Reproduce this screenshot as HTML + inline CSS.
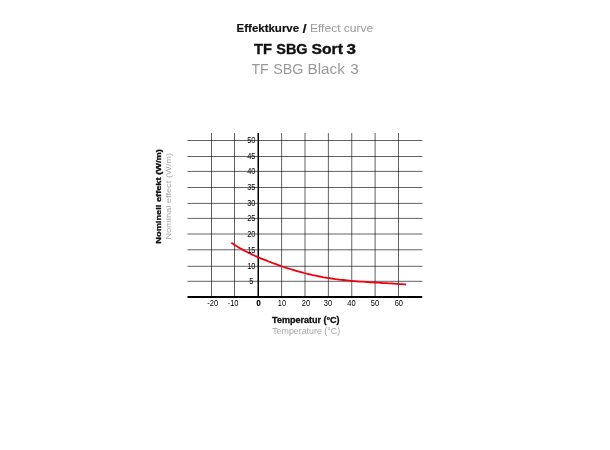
<!DOCTYPE html>
<html><head><meta charset="utf-8">
<style>
html,body{margin:0;padding:0;background:#fff;}
body{width:610px;height:450px;overflow:hidden;position:relative;font-family:"Liberation Sans",sans-serif;}
svg{position:absolute;left:0;top:0;}
text{font-family:"Liberation Sans",sans-serif;}
</style></head><body>
<svg width="610" height="450" viewBox="0 0 610 450">
<rect width="610" height="450" fill="#fff"/>
<text transform="translate(236.58,32.20) scale(0.9995,1)" font-size="11.5" fill="#111" font-weight="bold" stroke="#111" stroke-width="0.2">Effektkurve</text>
<text transform="translate(302.50,32.75) scale(1.1487,1)" font-size="13" fill="#111" font-weight="bold" stroke="#111" stroke-width="0.1">/</text>
<text transform="translate(309.96,32.20) scale(1.0466,1)" font-size="11.5" fill="#999">Effect curve</text>
<text transform="translate(254.10,53.80) scale(0.9620,1)" font-size="15.3" fill="#111" font-weight="bold" stroke="#111" stroke-width="0.35">TF</text>
<text transform="translate(276.27,53.80) scale(0.9465,1)" font-size="15.3" fill="#111" font-weight="bold" stroke="#111" stroke-width="0.35">SBG</text>
<text transform="translate(311.45,53.80) scale(1.0302,1)" font-size="15.3" fill="#111" font-weight="bold" stroke="#111" stroke-width="0.35">Sort</text>
<text transform="translate(346.53,53.80) scale(1.1155,1)" font-size="15.3" fill="#111" font-weight="bold" stroke="#111" stroke-width="0.35">3</text>
<text transform="translate(251.38,73.50) scale(0.9247,1)" font-size="15.3" fill="#999">TF</text>
<text transform="translate(273.15,73.50) scale(0.9352,1)" font-size="15.3" fill="#999">SBG</text>
<text transform="translate(307.51,73.50) scale(0.9984,1)" font-size="15.3" fill="#999">Black</text>
<text transform="translate(350.22,73.50) scale(0.9985,1)" font-size="15.3" fill="#999">3</text>
<text transform="translate(272.10,323.30) scale(1.1006,1)" font-size="8.2" fill="#111" font-weight="bold" stroke="#111" stroke-width="0.3">Temperatur (°C)</text>
<text transform="translate(272.16,334.10) scale(1.0814,1)" font-size="8.2" fill="#a6a6a6">Temperature (°C)</text>
<text transform="translate(160.90,243.10) rotate(-90) translate(-0.58,0) scale(1.2020,1)" font-size="7.7" fill="#111" font-weight="bold" stroke="#111" stroke-width="0.3">Nominell effekt (W/m)</text>
<text transform="translate(171.40,239.00) rotate(-90) translate(-0.72,0) scale(1.2042,1)" font-size="7.7" fill="#a6a6a6">Nominal effect (W/m)</text>
<g stroke="#000" stroke-width="0.62" fill="none">
<path d="M187.5 281.30H422.4M187.5 266.30H422.4M187.5 249.80H422.4M187.5 234.00H422.4M187.5 218.40H422.4M187.5 203.40H422.4M187.5 187.50H422.4M187.5 171.40H422.4M187.5 156.50H422.4M187.5 140.50H422.4"/>
<path d="M211.50 133V297M234.50 133V297M281.62 133V297M305.00 133V297M328.38 133V297M351.75 133V297M375.12 133V297M398.50 133V297"/>
</g>
<path d="M258.25 133V297" stroke="#000" stroke-width="1.5"/>
<path d="M187.5 297H422.2" stroke="#000" stroke-width="1.8"/>
<path d="M231.3 242.8 L233.3 244.1 L235.2 245.3 L237.2 246.5 L239.2 247.7 L241.1 248.8 L243.1 249.9 L245.0 251.0 L247.0 252.0 L249.0 253.0 L250.9 253.9 L252.9 254.9 L254.9 255.8 L256.8 256.6 L258.8 257.5 L260.8 258.3 L262.7 259.1 L264.7 259.9 L266.7 260.7 L268.6 261.5 L270.6 262.2 L272.5 263.0 L274.5 263.7 L276.5 264.4 L278.4 265.1 L280.4 265.8 L282.4 266.5 L284.3 267.1 L286.3 267.8 L288.3 268.4 L290.2 269.0 L292.2 269.6 L294.1 270.2 L296.1 270.8 L298.1 271.4 L300.0 271.9 L302.0 272.4 L304.0 273.0 L305.9 273.5 L307.9 274.0 L309.9 274.4 L311.8 274.9 L313.8 275.3 L315.8 275.7 L317.7 276.1 L319.7 276.5 L321.6 276.9 L323.6 277.3 L325.6 277.6 L327.5 277.9 L329.5 278.2 L331.5 278.5 L333.4 278.8 L335.4 279.1 L337.4 279.3 L339.3 279.6 L341.3 279.8 L343.3 280.0 L345.2 280.2 L347.2 280.4 L349.1 280.6 L351.1 280.8 L353.1 281.0 L355.0 281.1 L357.0 281.3 L359.0 281.5 L360.9 281.6 L362.9 281.7 L364.9 281.9 L366.8 282.0 L368.8 282.1 L370.7 282.3 L372.7 282.4 L374.7 282.5 L376.6 282.6 L378.6 282.7 L380.6 282.8 L382.5 283.0 L384.5 283.1 L386.5 283.2 L388.4 283.3 L390.4 283.4 L392.4 283.5 L394.3 283.7 L396.3 283.8 L398.2 283.9 L400.2 284.1 L402.2 284.2 L404.1 284.4 L406.1 284.5" stroke="#f2000c" stroke-width="1.8" fill="none" stroke-linecap="butt" stroke-linejoin="round"/>
<g font-size="8.5" fill="#000"><text transform="translate(251.35,284.10) scale(0.88,1)" text-anchor="middle">5</text><text transform="translate(251.35,269.10) scale(0.88,1)" text-anchor="middle">10</text><text transform="translate(251.35,252.60) scale(0.88,1)" text-anchor="middle">15</text><text transform="translate(251.35,236.80) scale(0.88,1)" text-anchor="middle">20</text><text transform="translate(251.35,221.20) scale(0.88,1)" text-anchor="middle">25</text><text transform="translate(251.35,206.20) scale(0.88,1)" text-anchor="middle">30</text><text transform="translate(251.35,190.30) scale(0.88,1)" text-anchor="middle">35</text><text transform="translate(251.35,174.20) scale(0.88,1)" text-anchor="middle">40</text><text transform="translate(251.35,159.30) scale(0.88,1)" text-anchor="middle">45</text><text transform="translate(251.35,143.30) scale(0.88,1)" text-anchor="middle">50</text></g>
<g font-size="8.5" fill="#000"><text transform="translate(212.70,306.3) scale(0.88,1)" text-anchor="middle">-20</text><text transform="translate(233.10,306.3) scale(0.88,1)" text-anchor="middle">-10</text><text transform="translate(258.60,306.3) scale(0.88,1)" text-anchor="middle" font-weight="bold" stroke="#000" stroke-width="0.25">0</text><text transform="translate(282.00,306.3) scale(0.88,1)" text-anchor="middle">10</text><text transform="translate(305.90,306.3) scale(0.88,1)" text-anchor="middle">20</text><text transform="translate(328.00,306.3) scale(0.88,1)" text-anchor="middle">30</text><text transform="translate(351.50,306.3) scale(0.88,1)" text-anchor="middle">40</text><text transform="translate(375.00,306.3) scale(0.88,1)" text-anchor="middle">50</text><text transform="translate(398.80,306.3) scale(0.88,1)" text-anchor="middle">60</text></g>
</svg>
</body></html>
